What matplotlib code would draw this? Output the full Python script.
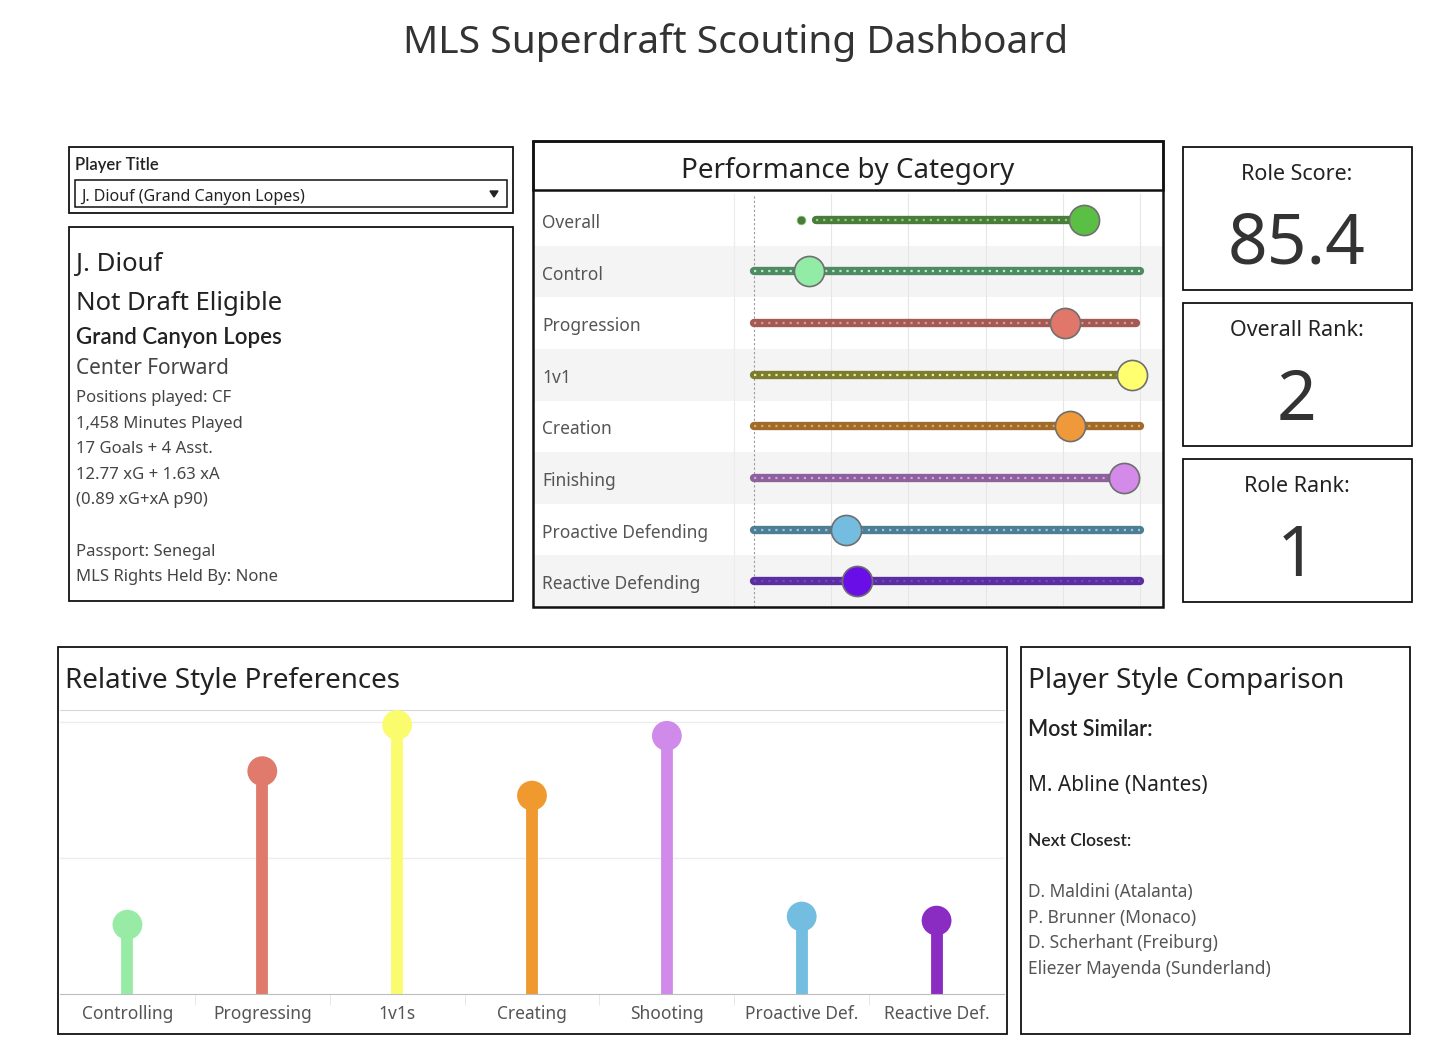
import matplotlib
matplotlib.use('Agg')
import matplotlib.pyplot as plt
from matplotlib.patches import Rectangle, Polygon
from matplotlib.transforms import blended_transform_factory

plt.rcParams['font.family'] = ['Noto Sans', 'DejaVu Sans']
HEAVY = ['Lato', 'Noto Sans', 'DejaVu Sans']

W, H = 1456, 1057

# player card
PLAYER = 'J. Diouf'
CLUB = 'Grand Canyon Lopes'
DETAILS = [
    'Positions played: CF',
    '1,458 Minutes Played',
    '17 Goals + 4 Asst.',
    '12.77 xG + 1.63 xA',
    '(0.89 xG+xA p90)',
    '',
    'Passport: Senegal',
    'MLS Rights Held By: None',
]

# performance by category (percentile scale 0-100)
perf_cats = ['Overall', 'Control', 'Progression', '1v1', 'Creation',
             'Finishing', 'Proactive Defending', 'Reactive Defending']
perf_low = [16, 0, 0, 0, 0, 0, 0, 0]
perf_high = [85, 100, 99, 98, 100, 99, 100, 100]
perf_player = [85.4, 14.3, 80.5, 98, 82, 96, 23.8, 26.6]
perf_outliers = [12.2, None, None, None, None, None, None, None]
perf_line = ['#4a7d3c', '#4e8a64', '#a35a55', '#7b7b35',
             '#9e6b2e', '#8c619c', '#4f7d92', '#5b2ea0']
perf_dots = ['#8fce7a', '#b5f0c5', '#e8958c', '#f5f56a',
             '#f0a347', '#d89cf0', '#8ccbe8', '#7a40d0']
perf_face = ['#5cbf45', '#93eca6', '#e0776a', '#ffff70',
             '#f0993a', '#d38ae9', '#74bde0', '#6a0ee8']

# score cards
CARDS = [('Role Score:', '85.4'), ('Overall Rank:', '2'), ('Role Rank:', '1')]

# relative style preferences
style_cats = ['Controlling', 'Progressing', '1v1s', 'Creating',
              'Shooting', 'Proactive Def.', 'Reactive Def.']
style_vals = [0.51, 1.64, 1.98, 1.46, 1.90, 0.57, 0.54]
style_colors = ['#98eba4', '#df7a6c', '#fbfb6e', '#f0992f',
                '#d08aea', '#72bde0', '#8a2cc2']

# similarity
MOST_SIMILAR = 'M. Abline (Nantes)'
NEXT_CLOSEST = ['D. Maldini (Atalanta)', 'P. Brunner (Monaco)',
                'D. Scherhant (Freiburg)', 'Eliezer Mayenda (Sunderland)']


def px_axes(fig, x0, y0, x1, y1):
    return fig.add_axes([x0 / W, 1 - y1 / H, (x1 - x0) / W, (y1 - y0) / H])


fig = plt.figure(figsize=(W / 100, H / 100), dpi=100)
fig.patch.set_facecolor('white')

# --- performance by category ---
ax = px_axes(fig, 533, 194, 1163, 607)
ax.set_xlim(-57.3, 106.0)
ax.set_ylim(len(perf_cats) - 0.5, -0.5)
ax.axis('off')
for i in range(len(perf_cats)):
    if i % 2 == 1:
        ax.axhspan(i - 0.5, i + 0.5, color='#f4f4f4', zorder=0, lw=0)
ax.axvline(-5.2, color='#ececec', lw=0.8, zorder=1)
for g in [20, 40, 60, 80, 100]:
    ax.axvline(g, color='#e6e6e6', lw=0.8, zorder=1)
ax.axvline(0, color='#9a9a9a', lw=0.8, ls=(0, (2, 2)), zorder=1)
tr = blended_transform_factory(ax.transAxes, ax.transData)
for i, cat in enumerate(perf_cats):
    ax.text(9 / 630, i + 0.06, cat, transform=tr, ha='left', va='center',
            fontsize=12.5, color='#555555')
    ax.plot([perf_low[i], perf_high[i]], [i, i], color=perf_line[i], lw=6,
            solid_capstyle='round', zorder=2)
    ax.plot([perf_low[i], perf_high[i]], [i, i], color=perf_dots[i], lw=1.6,
            ls=(0, (1, 2.2)), zorder=3)
    if perf_outliers[i] is not None:
        ax.scatter([perf_outliers[i]], [i], s=40, color=perf_line[i],
                   edgecolor=perf_dots[i], lw=0.5, zorder=3)
    ax.scatter([perf_player[i]], [i], s=470, color=perf_face[i],
               edgecolor='#6f6f6f', lw=1.2, zorder=4)

# --- relative style preferences ---
ax2 = px_axes(fig, 60, 710, 1004, 994)
ax2.set_xlim(-0.5, len(style_cats) - 0.5)
ax2.set_ylim(0, 2.09)
for s in ['left', 'right']:
    ax2.spines[s].set_visible(False)
ax2.spines['top'].set_color('#d8d8d8')
ax2.spines['bottom'].set_color('#bdbdbd')
ax2.set_yticks([1, 2])
ax2.yaxis.grid(True, color='#ececec', lw=1)
ax2.tick_params(axis='y', length=0, labelleft=False)
ax2.set_xticks(range(len(style_cats)))
ax2.set_xticklabels(style_cats, fontsize=12.5, color='#555555')
ax2.tick_params(axis='x', length=0, pad=8)
ax2.set_xticks([k + 0.5 for k in range(len(style_cats) - 1)], minor=True)
ax2.tick_params(axis='x', which='minor', length=8, color='#e4e4e4')
ax2.set_axisbelow(True)
ax2.vlines(range(len(style_cats)), 0, style_vals, colors=style_colors,
           lw=8.5, zorder=2)
ax2.scatter(range(len(style_cats)), style_vals, s=460, color=style_colors,
            zorder=3, lw=0, clip_on=False)

# --- overlay: boxes and text ---
bg = fig.add_axes([0, 0, 1, 1])
bg.set_xlim(0, W)
bg.set_ylim(H, 0)
bg.axis('off')
bg.patch.set_visible(False)


def box(x0, y0, x1, y1, lw=1.3):
    bg.add_patch(Rectangle((x0, y0), x1 - x0, y1 - y0, fill=False,
                           edgecolor='#111111', lw=lw))


def label(x, y, s, **kw):
    # nudge down a little: Noto's box centre sits above the visual centre
    kw.setdefault('va', 'center')
    kw.setdefault('ha', 'left')
    bg.text(x, y + 3, s, **kw)


label(736, 40, 'MLS Superdraft Scouting Dashboard', ha='center',
      fontsize=28, color='#333333')

# player selector
box(69, 147, 513, 213)
label(75, 162, 'Player Title', fontsize=12, family=HEAVY,
      fontweight='semibold', color='#222222')
box(75, 180, 507, 207, lw=1.1)
label(81, 194, f'{PLAYER} ({CLUB})', fontsize=11.5, color='#222222')
bg.add_patch(Polygon([[490, 191], [498, 191], [494, 197]], closed=True,
                     color='#222222'))

# player card
box(69, 227, 513, 601)
label(76, 261, PLAYER, fontsize=18.5, color='#222222')
label(76, 300, 'Not Draft Eligible', fontsize=18.5, color='#222222')
label(76, 335, CLUB, fontsize=16, family=HEAVY, fontweight='semibold',
      color='#222222')
label(76, 366, 'Center Forward', fontsize=15, color='#444444')
for k, line in enumerate(DETAILS):
    label(76, 395 + k * 25.6, line, fontsize=12, color='#444444')

# performance frame
box(533, 141, 1163, 607, lw=1.8)
box(533, 141, 1163, 190, lw=1.8)
label(848, 168, 'Performance by Category', ha='center', fontsize=20,
      color='#222222')

# score cards
for k, (title, value) in enumerate(CARDS):
    top = 147 + k * 156
    box(1183, top, 1412, top + 143)
    label(1297, top + 24, title, ha='center', fontsize=15.5, color='#222222')
    label(1297, top + 96, value, ha='center', fontsize=50, color='#333333')

# style preferences frame
box(58, 647, 1007, 1034)
label(65, 678, 'Relative Style Preferences', fontsize=20, color='#222222')

# similarity frame
box(1021, 647, 1410, 1034)
label(1028, 678, 'Player Style Comparison', fontsize=20, color='#222222')
label(1028, 726, 'Most Similar:', fontsize=15.5, family=HEAVY,
      fontweight='semibold', color='#222222')
label(1028, 783, MOST_SIMILAR, fontsize=15, color='#222222')
label(1028, 838, 'Next Closest:', fontsize=12.5, family=HEAVY,
      fontweight='semibold', color='#222222')
for k, name in enumerate(NEXT_CLOSEST):
    label(1028, 889 + k * 25.7, name, fontsize=12.5, color='#555555')

fig.savefig('out.png', dpi=100)
